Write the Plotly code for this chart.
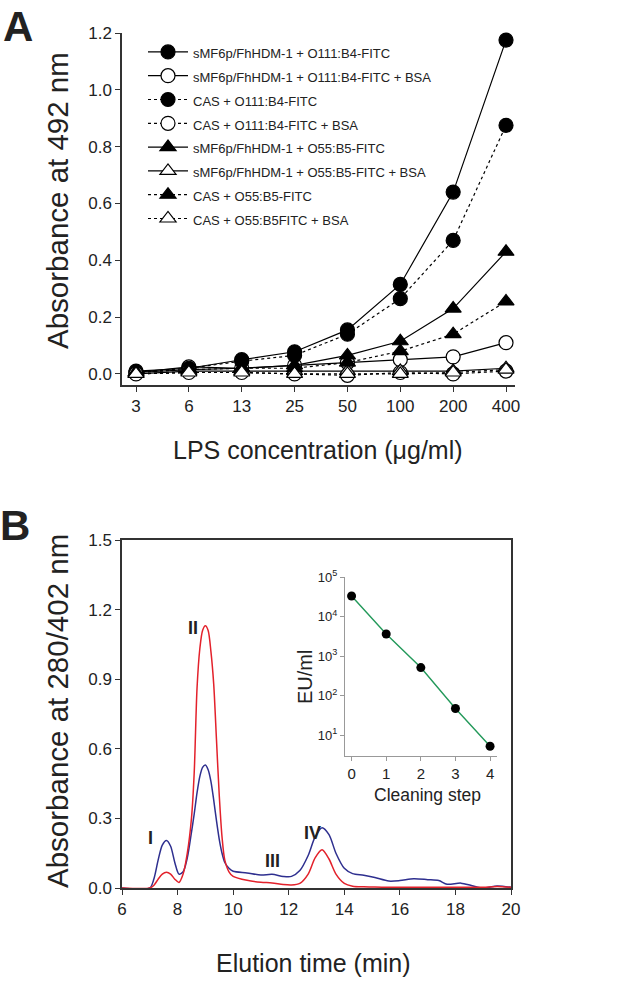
import plotly.graph_objects as go

# ---------------- panel A : ELISA binding ----------------
conc = ["3", "6", "13", "25", "50", "100", "200", "400"]

smf_o111 = [0.010, 0.020, 0.050, 0.078, 0.155, 0.315, 0.640, 1.175]
smf_o111_bsa = [0.005, 0.025, 0.020, 0.030, 0.040, 0.050, 0.060, 0.110]
cas_o111 = [0.005, 0.020, 0.045, 0.065, 0.140, 0.265, 0.470, 0.875]
cas_o111_bsa = [0.000, 0.005, 0.005, 0.000, -0.005, 0.005, 0.000, 0.010]
smf_o55 = [0.005, 0.015, 0.020, 0.030, 0.065, 0.115, 0.230, 0.430]
smf_o55_bsa = [0.000, 0.010, 0.010, 0.010, 0.010, 0.010, 0.010, 0.020]
cas_o55 = [0.005, 0.015, 0.020, 0.020, 0.040, 0.080, 0.140, 0.255]
cas_o55_bsa = [0.000, 0.005, 0.005, 0.000, 0.000, 0.000, 0.005, 0.015]

series_a = [
    ("sMF6p/FhHDM-1 + O111:B4-FITC", smf_o111, "circle", "solid", True),
    ("sMF6p/FhHDM-1 + O111:B4-FITC + BSA", smf_o111_bsa, "circle", "solid", False),
    ("CAS + O111:B4-FITC", cas_o111, "circle", "dot", True),
    ("CAS + O111:B4-FITC + BSA", cas_o111_bsa, "circle", "dot", False),
    ("sMF6p/FhHDM-1 + O55:B5-FITC", smf_o55, "triangle-up", "solid", True),
    ("sMF6p/FhHDM-1 + O55:B5-FITC + BSA", smf_o55_bsa, "triangle-up", "solid", False),
    ("CAS + O55:B5-FITC", cas_o55, "triangle-up", "dot", True),
    ("CAS + O55:B5FITC + BSA", cas_o55_bsa, "triangle-up", "dot", False),
]

# ---------------- panel B : chromatogram ----------------
elution_time = [6.0, 7.0, 7.15, 7.3, 7.45, 7.6, 7.75, 7.9, 8.05, 8.2, 8.35, 8.5,
                8.6, 8.7, 8.8, 8.9, 9.0, 9.1, 9.2, 9.3, 9.4, 9.5, 9.6, 9.7, 9.85,
                10.0, 10.5, 11.0, 11.4, 11.8, 12.1, 12.4, 12.7, 12.95, 13.2, 13.45,
                13.7, 14.0, 14.3, 14.7, 15.1, 15.6, 16.0, 16.5, 17.0, 17.4, 17.7,
                18.2, 18.6, 19.0, 19.5, 20.0]
abs_280 = [0.0, 0.0, 0.04, 0.12, 0.185, 0.205, 0.18, 0.11, 0.06, 0.07, 0.13, 0.24,
           0.32, 0.41, 0.48, 0.52, 0.53, 0.51, 0.46, 0.38, 0.29, 0.21, 0.15, 0.11, 0.085,
           0.072, 0.065, 0.056, 0.059, 0.05, 0.05, 0.075, 0.14, 0.22, 0.26, 0.23,
           0.15, 0.085, 0.062, 0.055, 0.045, 0.03, 0.032, 0.04, 0.036, 0.032, 0.016,
           0.021, 0.01, 0.0, 0.009, 0.003]
abs_402 = [0.0, 0.0, 0.012, 0.038, 0.06, 0.068, 0.06, 0.038, 0.024, 0.06, 0.15, 0.30,
           0.50, 0.86, 1.03, 1.11, 1.13, 1.11, 1.02, 0.88, 0.64, 0.40, 0.22, 0.12, 0.07,
           0.05, 0.033, 0.025, 0.022, 0.015, 0.013, 0.02, 0.06, 0.13, 0.165, 0.125,
           0.06, 0.02, 0.008, 0.005, 0.004, 0.003, 0.003, 0.003, 0.003, 0.003, 0.003,
           0.003, 0.003, 0.003, 0.007, 0.003]

peak_labels = ["I", "II", "III", "IV"]
peak_x = [7.04, 8.56, 11.40, 12.84]
peak_y = [0.214, 1.119, 0.116, 0.236]

# inset: endotoxin per cleaning step
cleaning_step = [0, 1, 2, 3, 4]
eu_per_ml = [33000, 3600, 510, 47, 5.2]

FONT = "Liberation Sans, Arial, sans-serif"
AX = "#333333"

W, H = 633, 981


def fx(sx):
    return sx / W


def fy(sy):
    return 1 - sy / H


fig = go.Figure()

for name, vals, sym, dash, filled in series_a:
    fig.add_trace(go.Scatter(
        x=conc, y=vals, name="<span style='font-size:13px'>%s</span>" % name,
        mode="lines+markers", xaxis="x", yaxis="y", cliponaxis=False,
        line=dict(color="black", width=1.2, dash=dash),
        marker=dict(symbol=sym, size=14,
                    color="black" if filled else "white",
                    line=dict(color="black", width=1.2)),
    ))

fig.add_trace(go.Scatter(
    x=elution_time, y=abs_280, mode="lines", xaxis="x2", yaxis="y2",
    line=dict(color="#2e2f8f", width=1.5, shape="spline", smoothing=0.8),
    showlegend=False,
))
fig.add_trace(go.Scatter(
    x=elution_time, y=abs_402, mode="lines", xaxis="x2", yaxis="y2",
    line=dict(color="#e3212b", width=1.5, shape="spline", smoothing=0.8),
    showlegend=False,
))
fig.add_trace(go.Scatter(
    x=cleaning_step, y=eu_per_ml, mode="lines+markers", xaxis="x3", yaxis="y3",
    line=dict(color="#23995a", width=1.4),
    marker=dict(color="black", size=9), showlegend=False, cliponaxis=False,
))

axis_common = dict(showline=True, linecolor=AX, linewidth=1.5, ticks="outside",
                   ticklen=5, tickcolor=AX, tickwidth=1.3, showgrid=False,
                   zeroline=False, automargin=False,
                   tickfont=dict(size=17, color="#222"))

annotations = []
for txt, x, y in zip(peak_labels, peak_x, peak_y):
    annotations.append(dict(text="<b>%s</b>" % txt, x=x, y=y, xref="x2", yref="y2",
                            xanchor="center", yanchor="middle",
                            showarrow=False, font=dict(size=18, color="#222")))


def note(text, x, y, size, angle=0, bold=False):
    annotations.append(dict(text="<b>%s</b>" % text if bold else text,
                            x=fx(x), y=fy(y), xref="paper", yref="paper",
                            xanchor="center", yanchor="middle",
                            showarrow=False, textangle=angle,
                            font=dict(size=size, color="#222")))


note("A", 18, 26, 42, bold=True)
note("B", 15, 525, 42, bold=True)
note("Absorbance at 492 nm", 57, 201, 29.5, angle=-90)
note("LPS concentration (\u03bcg/ml)", 318, 450, 25)
note("Absorbance at 280/402 nm", 57, 711, 29.5, angle=-90)
note("Elution time (min)", 313, 963, 25)
note("EU/ml", 305, 677, 20, angle=-90)
note("Cleaning step", 428, 795, 17.5)

fig.update_layout(
    width=W, height=H,
    margin=dict(l=0, r=0, t=0, b=0, autoexpand=False),
    paper_bgcolor="white", plot_bgcolor="white",
    font=dict(family=FONT, color="#222"),
    showlegend=True,
    legend=dict(x=fx(143), y=fy(35), xanchor="left", yanchor="top",
                bgcolor="rgba(0,0,0,0)", font=dict(size=16), itemwidth=40,
                tracegroupgap=0),
    xaxis=dict(axis_common, domain=[fx(122), fx(515)], anchor="y",
               type="category", range=[-0.265, 7.17]),
    yaxis=dict(axis_common, domain=[fy(385), fy(33)], anchor="x",
               range=[-0.039, 1.2], dtick=0.2, tickformat=".1f"),
    xaxis2=dict(axis_common, domain=[fx(122), fx(511)], anchor="y2",
                range=[6, 20], dtick=2, mirror=True),
    yaxis2=dict(axis_common, domain=[fy(888), fy(540)], anchor="x2",
                range=[0, 1.5], dtick=0.3, tickformat=".1f", mirror=True),
    xaxis3=dict(axis_common, domain=[fx(345), fx(497)], anchor="y3",
                range=[-0.19, 4.2], dtick=1, linecolor="#999", linewidth=1.2,
                tickcolor="#999", ticklen=4, tickfont=dict(size=15, color="#222")),
    yaxis3=dict(axis_common, domain=[fy(756), fy(577)], anchor="x3",
                type="log", range=[0.47, 5],
                tickvals=[10, 100, 1000, 10000, 100000],
                ticktext=["10<sup>1</sup>", "10<sup>2</sup>", "10<sup>3</sup>",
                          "10<sup>4</sup>", "10<sup>5</sup>"],
                linecolor="#999", linewidth=1.2, tickcolor="#999", ticklen=4,
                tickfont=dict(size=13, color="#222")),
    annotations=annotations,
)

# drop the default 8px body margin so the figure fills the window exactly
fig.write_html("out.html", config={"displayModeBar": False},
               post_script="document.body.style.margin='0';")
